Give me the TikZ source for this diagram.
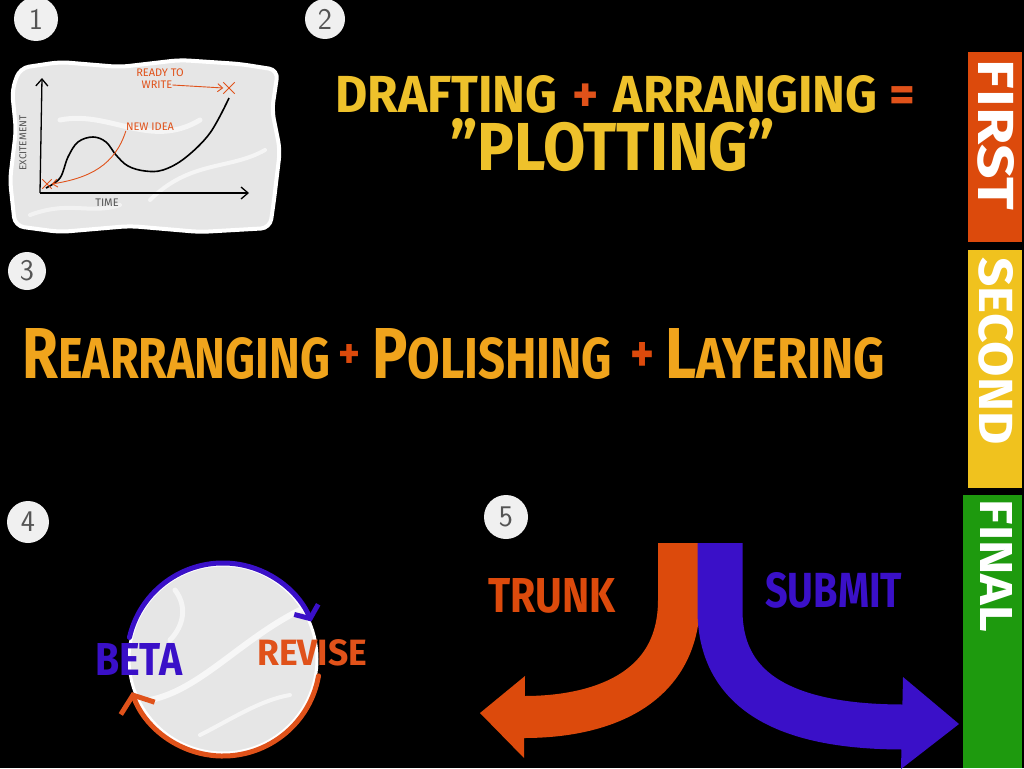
\documentclass[tikz,border=0pt]{standalone}
\usepackage{fontspec}
\setmainfont{Fira Sans}
\usetikzlibrary{arrows.meta,calc}
\definecolor{ttyellow}{HTML}{EEC12B}
\definecolor{ttamber}{HTML}{F0A41C}
\definecolor{ttorange}{HTML}{E0521A}
\definecolor{ttred}{HTML}{DC4A0C}
\definecolor{ttblue}{HTML}{3A10C8}
\definecolor{ttgreen}{HTML}{1E9A0E}
\definecolor{ttside}{HTML}{F0C21E}
\definecolor{ttpanel}{HTML}{E6E6E6}
\definecolor{ttbadge}{HTML}{F0F0F0}
\definecolor{ttink}{HTML}{555555}
\tikzset{
  badge/.style={circle,fill=ttbadge,minimum size=#1,inner sep=0pt,
    font=\sffamily\fontsize{30}{30}\selectfont,text=ttink},
  bigtext/.style={inner sep=0pt,anchor=base west,font=\bfseries},
  sidetext/.style={inner sep=0pt,rotate=-90,text=white,font=\bfseries},
  smalltext/.style={inner sep=0pt,font=\fontsize{11}{11}\selectfont},
  thinarrow/.style={ttorange,line width=0.9pt,-{Straight Barb[length=5pt,width=8pt]}},
  axis/.style={black,line width=1.3pt,-{Straight Barb[length=7pt,width=12pt]}},
  xmark/.style={ttorange,line width=0.9pt},
  ring/.style={line width=5pt,line cap=round},
}
\begin{document}
\begin{tikzpicture}[x=1pt,y=-1pt]
\fill[black] (0,0) rectangle (1024,768);
\useasboundingbox (0,0) rectangle (1024,768);

% ---------- badges
\node[badge=44pt] (b1) at (36,19) {1};
\node[badge=40pt] (b2) at (325,19) {2};
\node[badge=38pt] (b3) at (27,271) {3};
\node[badge=42pt] (b4) at (28,522) {4};
\node[badge=44pt] (b5) at (506,517) {5};

% ---------- graph panel
\filldraw[fill=ttpanel,draw=white,line width=4pt,rounded corners=9pt]
  (20,68) -- (60,62) -- (120,67) -- (180,60) -- (240,64) -- (278,70) -- (272,110)
  -- (280,150) -- (274,200) -- (270,228) -- (200,232) -- (130,226) -- (60,232)
  -- (15,226) -- (10,180) -- (16,130) -- (12,90) -- cycle;
\draw[white,line width=5pt,opacity=0.6,line cap=round] (60,120) .. controls (110,110) and (150,150) .. (200,120);
\draw[white,line width=4pt,opacity=0.6,line cap=round] (150,200) .. controls (190,160) and (230,170) .. (265,150);
\draw[white,line width=4pt,opacity=0.5,line cap=round] (30,215) .. controls (70,200) and (90,215) .. (120,205);
\coordinate (origin) at (40,193);
\coordinate (ytop) at (42,78);
\coordinate (xend) at (249,193);
\draw[axis] (origin) -- (ytop);
\draw[axis] (origin) -- (xend);
\draw[black,line width=1.6pt] plot[smooth,tension=0.6] coordinates {(46,188) (60,178) (68,157) (78,142) (93,137) (106,142) (116,155) (128,166) (145,171) (163,170) (185,158) (210,133) (229,98)};
% x marks
\node[inner sep=0pt,minimum size=9pt] (xa) at (47,184) {};
\node[inner sep=0pt,minimum size=11pt] (xb) at (229,88) {};
\draw[xmark] (xa.north west) -- (xa.south east) (xa.north east) -- (xa.south west);
\draw[xmark] (xb.north west) -- (xb.south east) (xb.north east) -- (xb.south west);
\node[smalltext,text=ttorange] (ready) at (160,73) {READY TO};
\node[smalltext,text=ttorange] (write) at (157,85) {WRITE};
\draw[thinarrow] (write.east) -- (xb.west);
\node[smalltext,text=ttorange] (newidea) at (150,127) {NEW IDEA};
\draw[thinarrow] (newidea.south west) .. controls (115,165) and (90,178) .. (xa.east);
\node[smalltext,text=ttink] (time) at (107,203) {TIME};
\node[smalltext,text=ttink,rotate=90,font=\fontsize{10}{10}\selectfont] (excite) at (23,143) {EXCITEMENT};

% ---------- title
\node[bigtext] (t1) at (335,112) {\resizebox{580pt}{37pt}{\color{ttyellow}DRAFTING\hspace{0.3em}\color{ttorange}+\color{ttyellow}\hspace{0.3em}ARRANGING \color{ttorange}=}};
\node[bigtext,text=ttyellow] (t2) at (450,170) {\resizebox{325pt}{52pt}{\symbol{34}PLOTTING\symbol{34}}};

% ---------- line 3
\node[bigtext,text=ttamber] (w1) at (22,378) {\resizebox{308pt}{50pt}{{\fontsize{60}{60}\selectfont R}{\fontsize{48}{48}\selectfont EARRANGING}}};
\node[bigtext,text=ttred] (p1) at (338,368) {\resizebox{22pt}{24pt}{+}};
\node[bigtext,text=ttamber] (w2) at (372,378) {\resizebox{240pt}{50pt}{{\fontsize{60}{60}\selectfont P}{\fontsize{48}{48}\selectfont OLISHING}}};
\node[bigtext,text=ttred] (p2) at (630,372) {\resizebox{24pt}{30pt}{+}};
\node[bigtext,text=ttamber] (w3) at (665,378) {\resizebox{220pt}{50pt}{{\fontsize{60}{60}\selectfont L}{\fontsize{48}{48}\selectfont AYERING}}};

% ---------- sidebar
\fill[ttred] (968,52) rectangle (1022,242);
\fill[ttside] (968,250) rectangle (1022,488);
\fill[ttgreen] (963,495) rectangle (1022,768);
\node[sidetext] (first) at (996,135) {\resizebox{150pt}{36pt}{FIRST}};
\node[sidetext] (second) at (996,351) {\resizebox{187pt}{34pt}{SECOND}};
\node[sidetext] (final) at (996,566) {\resizebox{132pt}{32pt}{FINAL}};

% ---------- cycle
\node[circle,fill=ttpanel,draw=white,line width=3pt,minimum size=188pt,inner sep=0pt] (globe) at (223,659) {};
\draw[white,line width=6pt,opacity=0.7,line cap=round] (150,700) .. controls (200,690) and (240,640) .. (300,610);
\draw[white,line width=5pt,opacity=0.6,line cap=round] (175,590) .. controls (190,610) and (180,630) .. (170,640);
\draw[white,line width=4pt,opacity=0.6,line cap=round] (200,735) .. controls (230,720) and (260,700) .. (290,695);
\draw[ring,ttblue,-{Straight Barb[length=10pt,width=26pt,line width=5pt]}] ($(globe.center)+(193:96)$) arc[start angle=193,end angle=337,radius=96];
\draw[ring,ttorange,-{Straight Barb[length=14pt,width=36pt,line width=5pt]}] ($(globe.center)+(10:97)$) arc[start angle=10,end angle=160,radius=97];
\node[bigtext,text=ttblue] (beta) at (95,675) {\resizebox{87pt}{32pt}{BETA}};
\node[bigtext,text=ttorange] (revise) at (257,665) {\resizebox{110pt}{26pt}{REVISE}};

% ---------- branching arrows
\coordinate (otop) at (679,543);
\coordinate (obend) at (679,600);
\coordinate (oend) at (524,717);
\coordinate (btop) at (720,543);
\coordinate (bbend) at (720,610);
\coordinate (bend) at (904,727);
\draw[ttred,line width=42pt] (otop) -- (obend) .. controls (679,690) and (600,717) .. (oend);
\fill[ttred] ($(oend)+(1,-41)$) -- (480,713) -- ($(oend)+(0,41)$) -- cycle;
\draw[ttblue,line width=45pt] (btop) -- (bbend) .. controls (720,700) and (800,727) .. (bend);
\fill[ttblue] ($(bend)+(-1,-50)$) -- (959,724) -- ($(bend)+(-3,42)$) -- cycle;
\node[bigtext,text=ttred] (trunk) at (488,612) {\resizebox{127pt}{34pt}{TRUNK}};
\node[bigtext,text=ttblue] (submit) at (765,607) {\resizebox{137pt}{35pt}{SUBMIT}};
\end{tikzpicture}
\end{document}
